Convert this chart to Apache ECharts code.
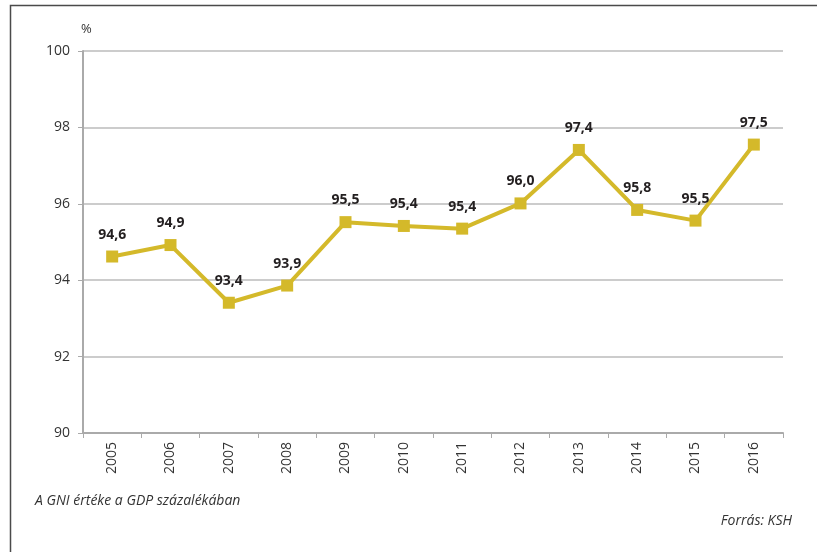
<!DOCTYPE html>
<html><head><meta charset="utf-8">
<script src="https://cdn.jsdelivr.net/npm/echarts@6/dist/echarts.min.js"></script>
<style>html,body{margin:0;padding:0;background:#fff}#c{width:817px;height:552px}</style>
</head><body><div id="c"></div>
<script>
const years = ['2005','2006','2007','2008','2009','2010','2011','2012','2013','2014','2015','2016'];
const gniPct = [94.62, 94.92, 93.41, 93.86, 95.52, 95.42, 95.35, 96.01, 97.41, 95.84, 95.56, 97.55];
const valueLabels = ['94,6','94,9','93,4','93,9','95,5','95,4','95,4','96,0','97,4','95,8','95,5','97,5'];
const yTicks = {min: 90, max: 100, interval: 2};

const chart = echarts.init(document.getElementById('c'), null, {renderer: 'canvas'});
const font = '"Open Sans", "Noto Sans", sans-serif';
chart.setOption({
  animation: false,
  backgroundColor: '#fff',
  textStyle: {fontFamily: font},
  grid: {left: 83, right: 34, top: 51, bottom: 119},
  graphic: [
    {type: 'rect', shape: {x: 10.5, y: 5.5, width: 900, height: 700}, style: {fill: 'none', stroke: '#4a4a4a', lineWidth: 1.5}, silent: true},
    {type: 'text', left: 81, top: 23, style: {text: '%', font: '13px ' + font, fill: '#333'}},
    {type: 'text', left: 35, top: 494, style: {text: 'A GNI értéke a GDP százalékában', font: 'italic 14px ' + font, fill: '#333'}},
    {type: 'text', right: 25, top: 514, style: {text: 'Forrás: KSH', font: 'italic 14px ' + font, fill: '#333'}}
  ],
  xAxis: {
    type: 'category',
    data: years,
    boundaryGap: true,
    axisLine: {lineStyle: {color: '#aaa', width: 2}},
    axisTick: {show: true, length: 5, lineStyle: {color: '#aaa'}},
    axisLabel: {rotate: 90, margin: 9, fontSize: 14, color: '#333', fontFamily: font}
  },
  yAxis: {
    type: 'value',
    min: yTicks.min, max: yTicks.max, interval: yTicks.interval,
    axisLine: {show: true, lineStyle: {color: '#aaa', width: 2}},
    axisTick: {show: true, length: 5, lineStyle: {color: '#aaa'}},
    axisLabel: {margin: 13, fontSize: 14, color: '#333', fontFamily: font},
    splitLine: {lineStyle: {color: '#bbb', width: 1.5}}
  },
  series: [{
    type: 'line',
    data: gniPct,
    symbol: 'rect',
    symbolSize: 12,
    lineStyle: {color: '#d4b92a', width: 4},
    itemStyle: {color: '#d4b92a'},
    label: {
      show: true, position: 'top', distance: 9,
      formatter: p => valueLabels[p.dataIndex],
      fontSize: 14, fontWeight: 'bold', color: '#231f20', fontFamily: font
    }
  }]
});
</script></body></html>
